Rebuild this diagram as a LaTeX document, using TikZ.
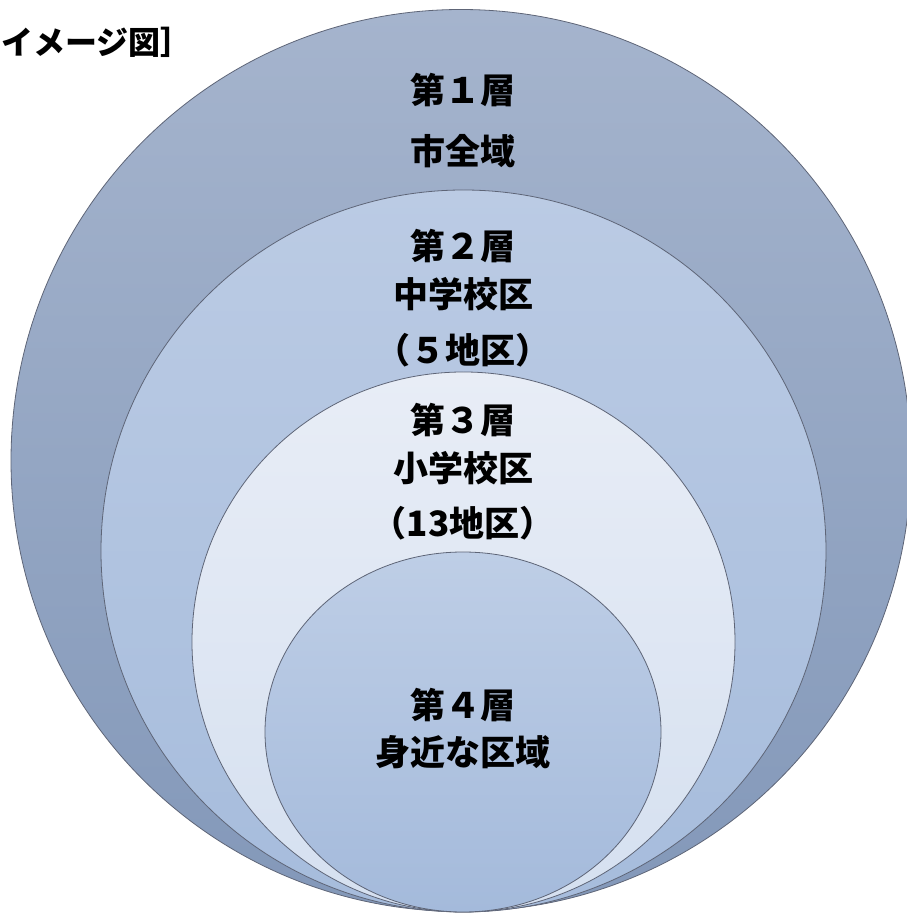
\documentclass[tikz,border=0pt]{standalone}
\usepackage{fontspec}
\newfontfamily\cjk{Noto Sans CJK JP}
\definecolor{ringA}{HTML}{A5B4CD}
\definecolor{ringAb}{HTML}{8398B9}
\definecolor{ringB}{HTML}{BBCBE4}
\definecolor{ringBb}{HTML}{A6BCDC}
\definecolor{ringC}{HTML}{E8EDF6}
\definecolor{ringCb}{HTML}{D5E0F0}
\definecolor{ringD}{HTML}{BECEE6}
\definecolor{ringDb}{HTML}{A4BADB}
\definecolor{edgeC}{HTML}{5E6577}
\tikzset{
  ring/.style={draw=edgeC, line width=0.8pt},
  lab/.style={inner sep=0pt, anchor=center, font=\cjk\bfseries\fontsize{35}{40}\selectfont, text=black},
  ttl/.style={inner sep=0pt, anchor=west, font=\cjk\bfseries\fontsize{32}{37}\selectfont, text=black}
}
\begin{document}
\begin{tikzpicture}[x=1pt,y=1pt]
\useasboundingbox (0,0) rectangle (907,914);
\begin{scope}
\clip (0,0) rectangle (907,914);
\shade[top color=ringA, bottom color=ringAb] (461,453.5) ellipse [x radius=450, y radius=451];
\draw[ring] (461,453.5) ellipse [x radius=450, y radius=451];
\shade[top color=ringB, bottom color=ringBb] (463.5,363) ellipse [x radius=362.5, y radius=361];
\draw[ring] (463.5,363) ellipse [x radius=362.5, y radius=361];
\shade[top color=ringC, bottom color=ringCb] (463.5,272) ellipse [x radius=271.5, y radius=270];
\draw[ring] (463.5,272) ellipse [x radius=271.5, y radius=270];
\shade[top color=ringD, bottom color=ringDb] (463,182) ellipse [x radius=198, y radius=180];
\draw[ring] (463,182) ellipse [x radius=198, y radius=180];
\end{scope}
\node[ttl] (title) at (1,872) {イメージ図］};
\node[lab] (t1a) at (463,824) {第１層};
\node[lab] (t1b) at (463,763) {市全域};
\node[lab] (t2a) at (463,668) {第２層};
\node[lab] (t2b) at (463,620) {中学校区};
\node[lab] (t2c) at (463,564) {（５地区）};
\node[lab] (t3a) at (463,494) {第３層};
\node[lab] (t3b) at (463,446) {小学校区};
\node[lab] (t3c) at (463,391) {（13地区）};
\node[lab] (t4a) at (463,209) {第４層};
\node[lab] (t4b) at (463,162) {身近な区域};
\end{tikzpicture}
\end{document}
